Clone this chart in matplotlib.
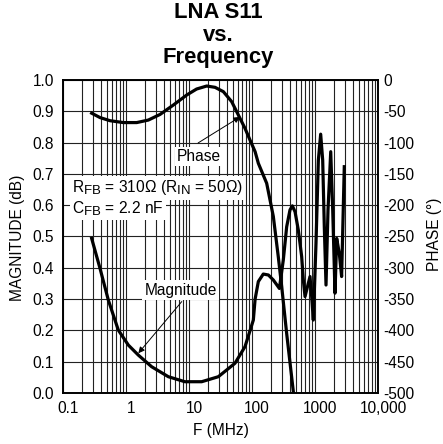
import matplotlib
matplotlib.use("Agg")
import matplotlib.pyplot as plt
import matplotlib.transforms as mtransforms
import matplotlib._mathtext as mathtext_mod
from matplotlib.ticker import LogLocator, NullFormatter, FixedLocator

plt.rcParams['font.family'] = ['Liberation Sans', 'DejaVu Sans']
plt.rcParams['mathtext.fontset'] = 'custom'
plt.rcParams['mathtext.rm'] = 'Liberation Sans'
plt.rcParams['axes.unicode_minus'] = False
# subscripts in the reference are nearly full size
mathtext_mod.SHRINK_FACTOR = 0.85

# magnitude trace (left axis)
mag_freq = [0.285, 0.387, 0.524, 0.755, 1.09, 1.57, 2.55, 4.7, 8.6, 15.9, 29.2, 53.7,
            77.4, 105, 112, 126, 151, 182, 218, 272, 314, 355, 401, 437, 482,
            543, 614, 653, 694, 833, 885, 940, 1037, 1130, 1230, 1324, 1405,
            1495, 1608, 1776, 1910, 2077, 2208, 2430, 2645, 2915]
mag_val = [0.494, 0.398, 0.297, 0.201, 0.153, 0.121, 0.084, 0.052, 0.036, 0.036, 0.052, 0.095,
           0.148, 0.233, 0.300, 0.356, 0.380, 0.377, 0.361, 0.334, 0.425, 0.531, 0.585, 0.598, 0.579,
           0.521, 0.436, 0.361, 0.308, 0.372, 0.308, 0.233, 0.478, 0.744, 0.827, 0.744, 0.531,
           0.345, 0.585, 0.771, 0.585, 0.319, 0.494, 0.446, 0.372, 0.723]

# phase trace (right axis, degrees)
ph_freq = [0.285, 0.387, 0.557, 0.907, 1.48, 2.26, 3.47, 5.64, 9.19, 13.2, 19.1, 25.9,
           35.1, 47.6, 60.7, 77.4, 92.9, 112, 126, 171, 218, 261, 296, 355, 453]
ph_val = [-53, -60, -65, -68, -68, -64, -55, -40, -24, -14.4, -9.6, -11.7,
          -18.6, -34.6, -55.9, -77.2, -95.8, -114.5, -133, -165, -218, -282, -330, -405, -498]

x_ticks = [0.1, 1, 10, 100, 1000, 10000]
x_labels = ['0.1', '1', '10', '100', '1000', '10,000']
mag_ticks = [i / 10 for i in range(11)]
ph_ticks = list(range(-500, 1, 50))

fs = 11.2

fig = plt.figure(figsize=(4.43, 4.44), dpi=100)
ax = fig.add_axes([0.1422, 0.1149, 0.7111, 0.7049])
ax2 = ax.twinx()

ax.set_xscale('log')
ax.set_xlim(0.1, 10000)
ax.set_ylim(0, 1)
ax2.set_ylim(-500, 0)

ax.xaxis.set_major_locator(FixedLocator(x_ticks))
ax.set_xticklabels(x_labels)
ax.xaxis.set_minor_locator(LogLocator(base=10, subs=range(2, 10), numticks=20))
ax.xaxis.set_minor_formatter(NullFormatter())
ax.set_yticks(mag_ticks)
ax.set_yticklabels([f'{v:.1f}' for v in mag_ticks])
ax2.set_yticks(ph_ticks)
ax2.set_yticklabels([str(v) for v in ph_ticks])

ax.grid(True, which='both', axis='x', color='#222222', lw=0.8)
ax.grid(True, which='major', axis='y', color='#222222', lw=0.8)
ax.tick_params(axis='x', which='both', length=0, labelsize=fs, pad=5.5)
ax.tick_params(axis='y', length=0, labelsize=fs, pad=6.5)
ax2.tick_params(axis='y', length=0, labelsize=fs, pad=3.6)
# x labels sit a little right of their gridlines in the reference
shift = mtransforms.ScaledTranslation(0.05, 0, fig.dpi_scale_trans)
for lab in ax.get_xticklabels():
    lab.set_transform(lab.get_transform() + shift)
for a in (ax, ax2):
    for s in a.spines.values():
        s.set_linewidth(1.2)

ax.plot(mag_freq, mag_val, color='black', lw=2.3, zorder=3)
ax2.plot(ph_freq, ph_val, color='black', lw=2.3, zorder=3)

ax.set_xlabel('F (MHz)', fontsize=fs)
ax.xaxis.set_label_coords(0.5, -0.095)
ax.set_ylabel('MAGNITUDE (dB)', fontsize=fs)
ax.yaxis.set_label_coords(-0.12, 0.495)
ax2.set_ylabel('PHASE (°)', fontsize=fs)
ax2.yaxis.set_label_coords(1.156, 0.506)

fig.text(0.493, 0.995, 'LNA S11\nvs.\nFrequency', ha='center', va='top',
         fontsize=15.8, fontweight='bold', linespacing=1.08)

box = dict(facecolor='white', edgecolor='none', pad=1.5)
ax.text(0.029, 0.655, r'R$_{\mathregular{FB}}$ = 310Ω (R$_{\mathregular{IN}}$ = 50Ω)',
        transform=ax.transAxes, fontsize=fs, va='center', ha='left', bbox=box, zorder=4)
ax.text(0.029, 0.588, r'C$_{\mathregular{FB}}$ = 2.2 nF',
        transform=ax.transAxes, fontsize=fs, va='center', ha='left', bbox=box, zorder=4)
ax.text(0.432, 0.757, 'Phase', transform=ax.transAxes, fontsize=fs,
        va='center', ha='center', bbox=box, zorder=4)
ax.text(0.373, 0.329, 'Magnitude', transform=ax.transAxes, fontsize=fs,
        va='center', ha='center', bbox=box, zorder=4)

arrow = dict(arrowstyle='-|>', color='black', lw=0.7, mutation_scale=9,
             shrinkA=0, shrinkB=0)
ax.annotate('', xy=(64.5, 0.882), xycoords='data', xytext=(0.429, 0.799),
            textcoords='axes fraction', arrowprops=arrow, zorder=5)
ax.annotate('', xy=(1.57, 0.127), xycoords='data', xytext=(0.377, 0.292),
            textcoords='axes fraction', arrowprops=arrow, zorder=5)

fig.savefig('out.png', dpi=100)
